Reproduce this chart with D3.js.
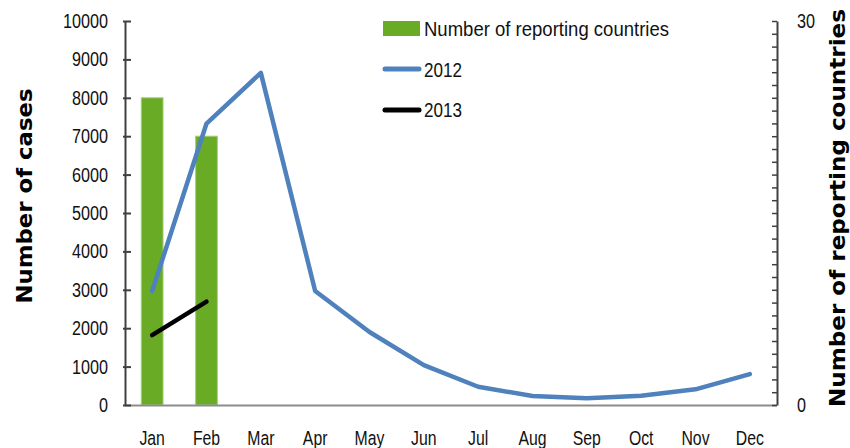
<!DOCTYPE html>
<html>
<head>
<meta charset="utf-8">
<script src="https://cdn.jsdelivr.net/npm/d3@7"></script>
<style>
  html, body { margin: 0; padding: 0; background: #fff; }
  svg { display: block; }
  .nar { font-family: "Liberation Sans", Arial, sans-serif; }
  .ttl { font-family: "DejaVu Sans", Verdana, sans-serif; font-weight: bold; }
</style>
</head>
<body>
<svg id="chart" width="850" height="448"></svg>
<script>
const months = ["Jan","Feb","Mar","Apr","May","Jun","Jul","Aug","Sep","Oct","Nov","Dec"];
const cases2012 = [2970, 7330, 8650, 2970, 1900, 1040, 475, 234, 174, 242, 408, 805];
const cases2013 = [1820, 2690, null, null, null, null, null, null, null, null, null, null];
const reportingCountries = [24, 21, null, null, null, null, null, null, null, null, null, null];
const leftTicks = [0,1000,2000,3000,4000,5000,6000,7000,8000,9000,10000];
const rightTicks = [0, 30];
const legendLabels = ["Number of reporting countries", "2012", "2013"];

const SX = 0.81; // horizontal squeeze to imitate the narrow label font
const svg = d3.select("#chart");
const L = 125, R = 777, T = 21, B = 405;

const x = d3.scaleBand().domain(months).range([L, R]).paddingInner(0.6).paddingOuter(0.3);
const y = d3.scaleLinear().domain([0, 10000]).range([B, T]);
const y2 = d3.scaleLinear().domain([0, 30]).range([B, T]);
const cx = m => x(m) + x.bandwidth() / 2;

function squeeze(sel, s = SX) {
  sel.each(function() {
    const t = d3.select(this);
    const xv = +t.attr("x") || 0;
    t.attr("x", xv / s).attr("transform", `scale(${s},1)`);
  });
}

// bars
svg.append("g").selectAll("rect")
  .data(months.map((m, i) => ({m, v: reportingCountries[i]})).filter(d => d.v != null))
  .join("rect")
  .attr("x", d => x(d.m))
  .attr("y", d => y2(d.v))
  .attr("width", x.bandwidth())
  .attr("height", d => y2(0) - y2(d.v))
  .attr("fill", "#6aab25")
  .attr("stroke", "#a4cf7a")
  .attr("stroke-width", 1);

// bottom axis line
svg.append("line").attr("x1", L).attr("x2", R).attr("y1", B + 0.5).attr("y2", B + 0.5)
  .attr("stroke", "#8c8c8c").attr("stroke-width", 2);

// left axis
const yAxis = d3.axisLeft(y).tickValues(leftTicks).tickFormat(d3.format("d"))
  .tickSizeInner(-6).tickSizeOuter(0).tickPadding(17);
const gl = svg.append("g").attr("transform", `translate(${L},0)`).call(yAxis);
gl.attr("font-family", null).attr("font-size", null);
gl.select(".domain").attr("stroke", "#404040").attr("stroke-width", 2);
gl.selectAll(".tick line").attr("stroke", "#404040").attr("stroke-width", 2).attr("x1", -2);
gl.selectAll(".tick text").attr("class", "nar").attr("font-size", 20).attr("fill", "#111").call(squeeze);

// right axis
const rightMinor = d3.range(0, 31);
const yAxisR = d3.axisRight(y2).tickValues(rightMinor).tickSizeInner(-5).tickSizeOuter(0)
  .tickFormat(d => rightTicks.includes(d) ? d : "").tickPadding(20);
const gr = svg.append("g").attr("transform", `translate(${R},0)`).call(yAxisR);
gr.attr("font-family", null).attr("font-size", null);
gr.select(".domain").attr("stroke", "#404040").attr("stroke-width", 2);
gr.selectAll(".tick line").attr("stroke", "#404040").attr("stroke-width", 1.5);
gr.selectAll(".tick text").attr("class", "nar").attr("font-size", 20).attr("fill", "#111").call(squeeze);

// month labels
svg.append("g").selectAll("text").data(months).join("text")
  .attr("class", "nar")
  .attr("x", d => cx(d)).attr("y", 445)
  .attr("text-anchor", "middle").attr("font-size", 19.5).attr("fill", "#111")
  .text(d => d).call(squeeze);

// lines
const line = d3.line().defined(d => d.v != null).x(d => cx(d.m)).y(d => y(d.v));
svg.append("path")
  .datum(months.map((m, i) => ({m, v: cases2012[i]})))
  .attr("d", line).attr("fill", "none").attr("stroke", "#4f81bd").attr("stroke-width", 4.5)
  .attr("stroke-linejoin", "round").attr("stroke-linecap", "round");
svg.append("path")
  .datum(months.map((m, i) => ({m, v: cases2013[i]})))
  .attr("d", line).attr("fill", "none").attr("stroke", "#000").attr("stroke-width", 4.5)
  .attr("stroke-linejoin", "round").attr("stroke-linecap", "round");

// axis titles
svg.append("text").attr("class", "ttl")
  .attr("transform", `translate(32,196) rotate(-90)`)
  .attr("text-anchor", "middle").attr("font-size", 20.5).attr("fill", "#000")
  .attr("textLength", 215).attr("lengthAdjust", "spacingAndGlyphs")
  .text("Number of cases");
svg.append("text").attr("class", "ttl")
  .attr("transform", `translate(845,208) rotate(-90)`)
  .attr("text-anchor", "middle").attr("font-size", 21.5).attr("fill", "#000")
  .attr("textLength", 398).attr("lengthAdjust", "spacingAndGlyphs")
  .text("Number of reporting countries");

// legend
const lg = svg.append("g");
lg.append("rect").attr("x", 383).attr("y", 21).attr("width", 37).attr("height", 15).attr("fill", "#6aab25");
lg.append("line").attr("x1", 385).attr("x2", 419).attr("y1", 69).attr("y2", 69)
  .attr("stroke", "#4f81bd").attr("stroke-width", 5).attr("stroke-linecap", "round");
lg.append("line").attr("x1", 385).attr("x2", 419).attr("y1", 110).attr("y2", 110)
  .attr("stroke", "#000").attr("stroke-width", 5).attr("stroke-linecap", "round");
lg.selectAll("text.lt").data(legendLabels).join("text")
  .attr("class", "nar lt")
  .attr("x", 424).attr("y", (d, i) => [36, 77, 117][i])
  .attr("font-size", 20.5).attr("fill", "#111")
  .attr("textLength", (d, i) => i === 0 ? 245 : 38).attr("lengthAdjust", "spacingAndGlyphs")
  .text(d => d);
</script>
</body>
</html>
